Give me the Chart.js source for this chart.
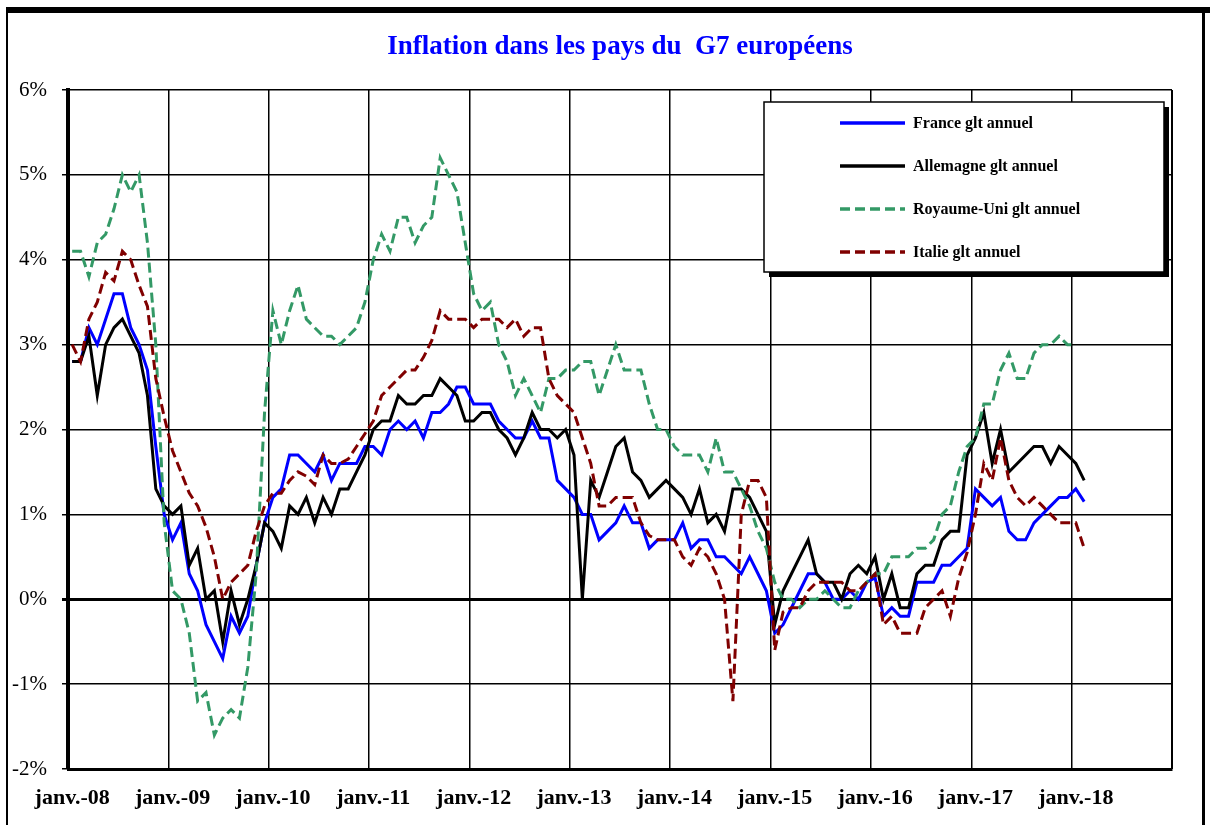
<!DOCTYPE html>
<html><head><meta charset="utf-8">
<script src="https://cdn.jsdelivr.net/npm/chart.js@4.4.0/dist/chart.umd.min.js"></script>
<style>html,body{margin:0;padding:0;background:#fff;}#wrap{width:1210px;height:825px;}</style>
</head><body><div id="wrap"><canvas id="c" width="1210" height="825"></canvas></div>
<script>
// ---- categories ----
const monthNames = ['janv.','févr.','mars','avr.','mai','juin','juil.','août','sept.','oct.','nov.','déc.'];
const yearLabels = ['08','09','10','11','12','13','14','15','16','17','18'];
const categories = [];
yearLabels.forEach(y => monthNames.forEach(m => categories.push(m + '-' + y)));

const titleText = 'Inflation dans les pays du  G7 européens';
const seriesNames = ['France glt annuel','Allemagne glt annuel','Royaume-Uni glt annuel','Italie glt annuel'];
const yTicks = [-2,-1,0,1,2,3,4,5,6];

// ---- series (monthly, from janv.-08) ----
const france = [
 2.8,2.8,3.2,3.0,3.3,3.6,3.6,3.2,3.0,2.7,1.8,1.0,
 0.7,0.9,0.3,0.1,-0.3,-0.5,-0.7,-0.2,-0.4,-0.2,0.4,0.9,
 1.2,1.3,1.7,1.7,1.6,1.5,1.7,1.4,1.6,1.6,1.6,1.8,
 1.8,1.7,2.0,2.1,2.0,2.1,1.9,2.2,2.2,2.3,2.5,2.5,
 2.3,2.3,2.3,2.1,2.0,1.9,1.9,2.1,1.9,1.9,1.4,1.3,
 1.2,1.0,1.0,0.7,0.8,0.9,1.1,0.9,0.9,0.6,0.7,0.7,
 0.7,0.9,0.6,0.7,0.7,0.5,0.5,0.4,0.3,0.5,0.3,0.1,
 -0.4,-0.3,-0.1,0.1,0.3,0.3,0.2,0.0,0.0,0.1,0.0,0.2,
 0.25,-0.2,-0.1,-0.2,-0.2,0.2,0.2,0.2,0.4,0.4,0.5,0.6,
 1.3,1.2,1.1,1.2,0.8,0.7,0.7,0.9,1.0,1.1,1.2,1.2,
 1.3,1.15];
const allemagne = [
 2.8,2.8,3.1,2.4,3.0,3.2,3.3,3.1,2.9,2.4,1.3,1.1,
 1.0,1.1,0.4,0.6,0.0,0.1,-0.5,0.1,-0.3,0.0,0.4,0.9,
 0.8,0.6,1.1,1.0,1.2,0.9,1.2,1.0,1.3,1.3,1.5,1.7,
 2.0,2.1,2.1,2.4,2.3,2.3,2.4,2.4,2.6,2.5,2.4,2.1,
 2.1,2.2,2.2,2.0,1.9,1.7,1.9,2.2,2.0,2.0,1.9,2.0,
 1.7,0.0,1.4,1.2,1.5,1.8,1.9,1.5,1.4,1.2,1.3,1.4,
 1.3,1.2,1.0,1.3,0.9,1.0,0.8,1.3,1.3,1.2,1.0,0.8,
 -0.3,0.1,0.3,0.5,0.7,0.3,0.2,0.2,0.0,0.3,0.4,0.3,
 0.5,0.0,0.3,-0.1,-0.1,0.3,0.4,0.4,0.7,0.8,0.8,1.7,
 1.9,2.2,1.6,2.0,1.5,1.6,1.7,1.8,1.8,1.6,1.8,1.7,
 1.6,1.4];
const royaumeUni = [
 4.1,4.1,3.8,4.2,4.3,4.6,5.0,4.8,5.0,4.2,3.0,0.9,
 0.1,0.0,-0.4,-1.2,-1.1,-1.6,-1.4,-1.3,-1.4,-0.8,0.3,2.2,
 3.4,3.0,3.4,3.7,3.3,3.2,3.1,3.1,3.0,3.1,3.2,3.5,
 4.0,4.3,4.1,4.5,4.5,4.2,4.4,4.5,5.2,5.0,4.8,4.2,
 3.6,3.4,3.5,3.0,2.8,2.4,2.6,2.4,2.2,2.6,2.6,2.7,
 2.7,2.8,2.8,2.4,2.7,3.0,2.7,2.7,2.7,2.3,2.0,2.0,
 1.8,1.7,1.7,1.7,1.5,1.9,1.5,1.5,1.3,1.1,0.8,0.6,
 0.2,0.0,0.0,-0.1,0.0,0.0,0.1,0.0,-0.1,-0.1,0.1,0.2,
 0.3,0.3,0.5,0.5,0.5,0.6,0.6,0.7,1.0,1.1,1.5,1.8,
 1.9,2.3,2.3,2.7,2.9,2.6,2.6,2.9,3.0,3.0,3.1,3.0,
 3.0];
const italie = [
 3.0,2.8,3.3,3.5,3.85,3.75,4.1,4.0,3.7,3.45,2.6,2.15,
 1.75,1.5,1.25,1.1,0.85,0.5,0.0,0.2,0.3,0.4,0.8,1.1,
 1.25,1.25,1.4,1.5,1.45,1.35,1.7,1.6,1.6,1.65,1.8,1.95,
 2.1,2.4,2.5,2.6,2.7,2.7,2.85,3.05,3.4,3.3,3.3,3.3,
 3.2,3.3,3.3,3.3,3.2,3.3,3.1,3.2,3.2,2.6,2.4,2.3,
 2.2,1.9,1.6,1.1,1.1,1.2,1.2,1.2,0.9,0.75,0.7,0.7,
 0.7,0.5,0.4,0.6,0.5,0.3,0.0,-1.2,1.0,1.4,1.4,1.2,
 -0.6,-0.15,-0.1,-0.1,0.1,0.2,0.2,0.2,0.2,0.1,0.1,0.2,
 0.3,-0.3,-0.2,-0.4,-0.4,-0.4,-0.1,0.0,0.1,-0.2,0.25,0.55,
 1.0,1.6,1.4,1.9,1.4,1.2,1.1,1.2,1.1,1.0,0.9,0.9,
 0.9,0.6];

const SERIF = '"Liberation Serif", "Times New Roman", serif';

const bgFrame = {
  id: 'bgFrame',
  beforeDraw(chart) {
    const c = chart.ctx;
    c.save();
    c.fillStyle = '#fff';
    c.fillRect(0, 0, chart.width, chart.height);
    c.restore();
  },
  afterDraw(chart) {
    const c = chart.ctx;
    const a = chart.chartArea;
    c.save();
    // title
    c.font = 'bold 27px ' + SERIF;
    c.fillStyle = '#0000FF';
    c.textAlign = 'center';
    c.textBaseline = 'middle';
    c.fillText(titleText, (a.left + a.right) / 2, 47);
    // outer frame
    c.fillStyle = '#000';
    c.fillRect(6, 7, 1204, 6);
    c.fillRect(6, 7, 2, 818);
    c.fillRect(1202, 7, 3, 818);
    // plot area right edge
    c.fillRect(a.right - 1, a.top, 2, a.bottom - a.top);
    // legend box
    const x0 = 764, y0 = 102, w = 400, h = 170;
    c.fillStyle = '#000';
    c.fillRect(x0 + 5, y0 + 5, w, h);
    c.fillStyle = '#fff';
    c.fillRect(x0, y0, w, h);
    c.strokeStyle = '#000';
    c.lineWidth = 1.5;
    c.strokeRect(x0, y0, w, h);
    chart.data.datasets.forEach((ds, i) => {
      const y = 123 + i * 43;
      c.strokeStyle = ds.borderColor;
      c.lineWidth = 3.5;
      c.setLineDash(ds.borderDash || []);
      c.beginPath(); c.moveTo(840, y); c.lineTo(905, y); c.stroke();
      c.setLineDash([]);
      c.fillStyle = '#000';
      c.font = 'bold 16px ' + SERIF;
      c.textAlign = 'left';
      c.textBaseline = 'middle';
      c.fillText(ds.label, 913, y + 1);
    });
    c.restore();
  }
};

new Chart(document.getElementById('c'), {
  type: 'line',
  data: {
    labels: categories,
    datasets: [
      { label: seriesNames[0], data: france, borderColor: '#0000FF', borderWidth: 3, order: 4 },
      { label: seriesNames[1], data: allemagne, borderColor: '#000000', borderWidth: 3, order: 3 },
      { label: seriesNames[2], data: royaumeUni, borderColor: '#339966', borderWidth: 3, borderDash: [10, 5], order: 2 },
      { label: seriesNames[3], data: italie, borderColor: '#800000', borderWidth: 3, borderDash: [10, 5], order: 1 }
    ]
  },
  options: {
    responsive: false,
    animation: false,
    layout: { padding: { top: 90, right: 38, left: 0, bottom: 0 } },
    plugins: { legend: { display: false }, title: { display: false }, tooltip: { enabled: false } },
    elements: { point: { radius: 0 }, line: { tension: 0, borderCapStyle: 'butt', borderJoinStyle: 'miter' } },
    scales: {
      x: {
        type: 'category',
        offset: true,
        grid: {
          offset: true,
          drawTicks: false,
          lineWidth: 1.5,
          color: ctx => (ctx.index === undefined || ctx.index % 12 === 0) ? '#000' : 'rgba(0,0,0,0)'
        },
        border: { display: true, color: '#000', width: 3 },
        ticks: {
          autoSkip: false, maxRotation: 0, minRotation: 0, padding: 16, color: '#000',
          font: { family: SERIF, size: 22, weight: 'bold' },
          callback: (v, i) => (i % 12 === 0 ? categories[i] : '')
        },
        afterFit: s => { s.height = 56; }
      },
      y: {
        min: yTicks[0], max: yTicks[yTicks.length - 1],
        afterBuildTicks: s => { s.ticks = yTicks.map(v => ({ value: v })); },
        ticks: { callback: v => v + '%', padding: 15, color: '#000', font: { family: SERIF, size: 21 } },
        grid: {
          color: '#000',
          tickLength: 6,
          lineWidth: ctx => (ctx.tick && ctx.tick.value === 0) ? 3 : 1.5
        },
        border: { display: true, color: '#000', width: 4 },
        afterFit: s => { s.width = 68; }
      }
    }
  },
  plugins: [bgFrame]
});
</script>
</body></html>
